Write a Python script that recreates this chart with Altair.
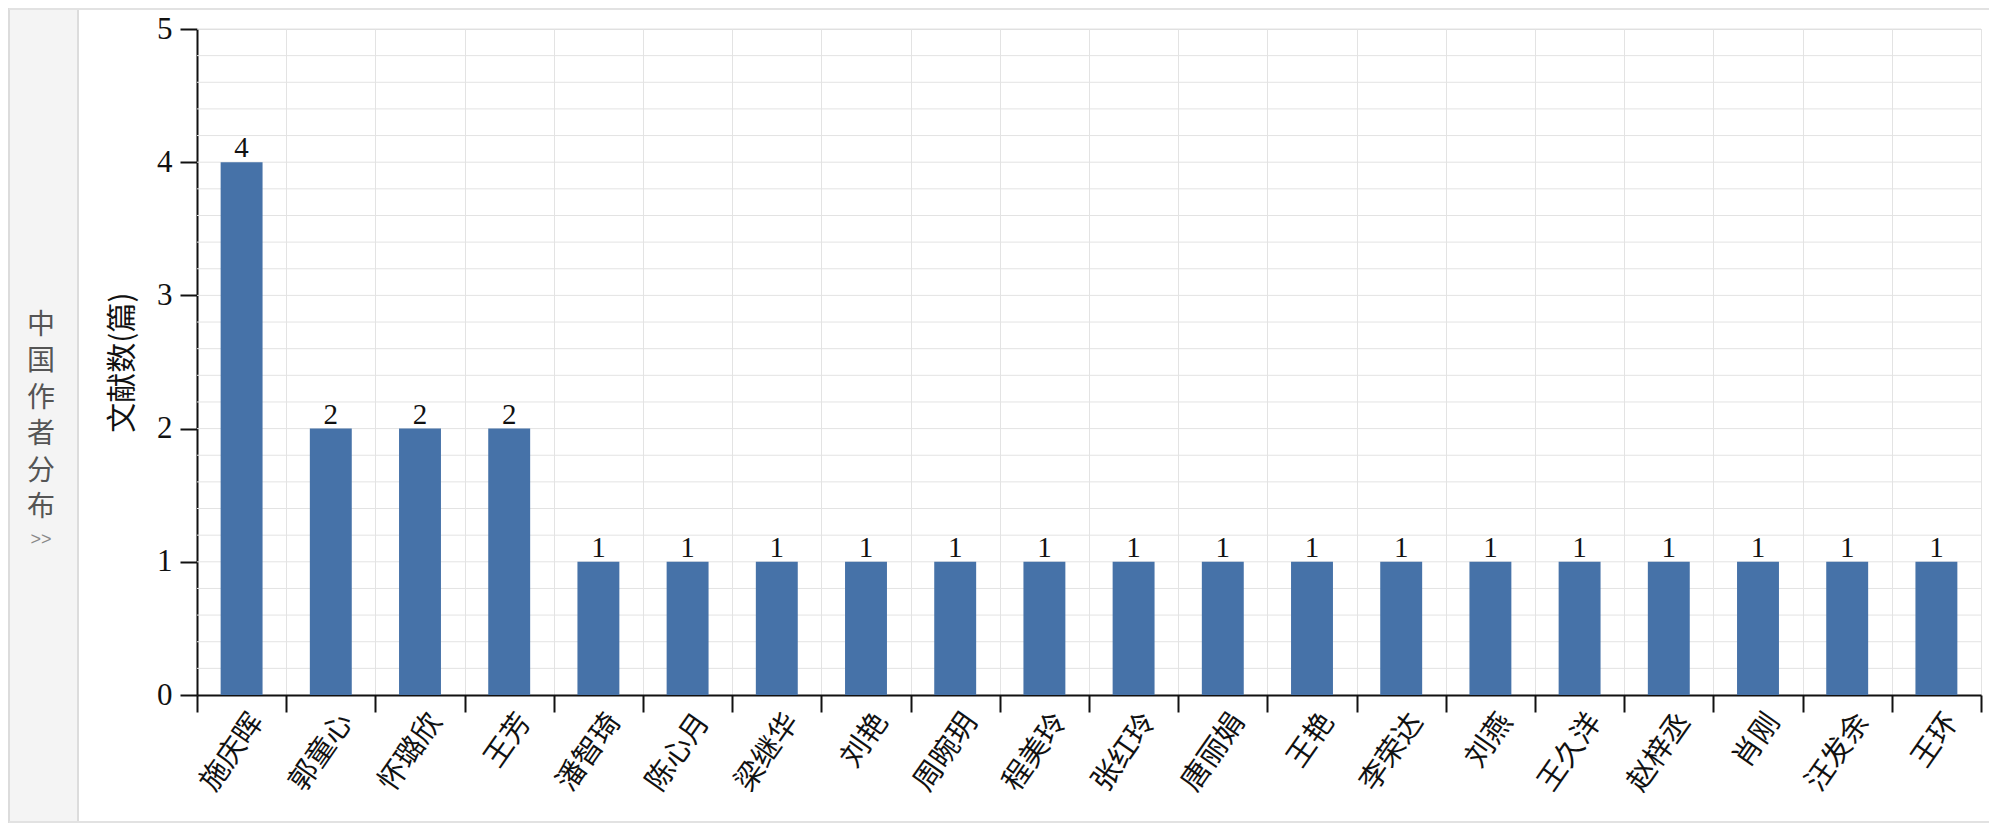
import altair as alt
import pandas as pd

authors = ["施庆晖", "郭童心", "怀璐欣", "王芳", "潘智琦", "陈心月", "梁继华", "刘艳",
           "周晼玥", "程美玲", "张红玲", "唐丽娟", "王艳", "李荣达", "刘燕", "王久洋",
           "赵梓丞", "肖刚", "汪发余", "王环"]
counts = [4, 2, 2, 2, 1, 1, 1, 1, 1, 1, 1, 1, 1, 1, 1, 1, 1, 1, 1, 1]
y_ticks = [0, 1, 2, 3, 4, 5]
y_grid = [0.2, 0.4, 0.6, 0.8, 1, 1.2, 1.4, 1.6, 1.8, 2, 2.2, 2.4, 2.6, 2.8,
          3, 3.2, 3.4, 3.6, 3.8, 4, 4.2, 4.4, 4.6, 4.8, 5]
y_title = "文献数(篇)"
panel_chars = ["中", "国", "作", "者", "分", "布"]

df = pd.DataFrame({"author": authors, "count": counts})
grid_df = pd.DataFrame({"count": y_grid})
one = pd.DataFrame({"k": [0]})

SERIF = "Liberation Serif, Noto Sans CJK SC"
CJK = "Noto Sans CJK SC"
W, H = 1784, 666

x_enc = alt.X(
    "author:N", sort=None,
    scale=alt.Scale(paddingInner=0, paddingOuter=0),
    axis=alt.Axis(
        title=None, labelAngle=-55, labelFontSize=29, labelFont=SERIF, labelColor="#111",
        tickBand="extent", grid=True, gridColor="#e3e3e3", gridWidth=1,
        domainColor="#111", domainWidth=2, tickColor="#111", tickWidth=2, tickSize=17,
        labelPadding=4, labelOffset=15,
    ),
)
y_scale = alt.Scale(domain=[0, 5], nice=False)
y_axis = alt.Axis(
    title=y_title, titleFont=CJK, titleFontSize=30, titleFontWeight="normal",
    titleColor="#111", titlePadding=19,
    values=y_ticks, format="d", grid=False,
    labelFontSize=31, labelFont=SERIF, labelColor="#111", labelPadding=8,
    domainColor="#111", domainWidth=2, tickColor="#111", tickWidth=2, tickSize=17,
)

panel = alt.Chart(one).mark_rect(fill="#f4f4f4", stroke="#dcdcdc", strokeWidth=2).encode(
    x=alt.value(-188), x2=alt.value(-119), y=alt.value(-20), y2=alt.value(793)
)
top_line = alt.Chart(one).mark_rule(color="#e2e2e2", strokeWidth=2).encode(
    x=alt.value(-188), x2=alt.value(1792), y=alt.value(-20)
)
bottom_line = alt.Chart(one).mark_rule(color="#e2e2e2", strokeWidth=2).encode(
    x=alt.value(-188), x2=alt.value(1792), y=alt.value(793)
)
panel_text = alt.Chart(one).mark_text(
    font=CJK, fontSize=28, color="#555", lineHeight=36.4, baseline="middle", align="center"
).encode(x=alt.value(-156), y=alt.value(297), text=alt.value(panel_chars))
panel_arrow = alt.Chart(one).mark_text(
    font="Liberation Sans", fontSize=18, color="#888", baseline="middle", align="center"
).encode(x=alt.value(-156), y=alt.value(511), text=alt.value(">>"))

grid = alt.Chart(grid_df).mark_rule(color="#e3e3e3", strokeWidth=1).encode(
    y=alt.Y("count:Q", scale=y_scale, axis=y_axis)
)

bars = alt.Chart(df).mark_bar(color="#4672a8", width=alt.RelativeBandSize(0.47)).encode(
    x=x_enc, y=alt.Y("count:Q", scale=y_scale, axis=y_axis)
)
labels = alt.Chart(df).mark_text(
    font=SERIF, fontSize=29, color="#111", baseline="alphabetic", dy=-5
).encode(x=alt.X("author:N", sort=None), y=alt.Y("count:Q"), text=alt.Text("count:Q"))

chart = alt.layer(panel, top_line, bottom_line, panel_text, panel_arrow, grid, bars, labels).properties(
    width=W, height=H, padding=0
).configure_view(stroke=None).configure_axis(labelFont=SERIF).configure(background="white")

chart.save("out.html", embed_options={"renderer": "svg", "actions": False})
